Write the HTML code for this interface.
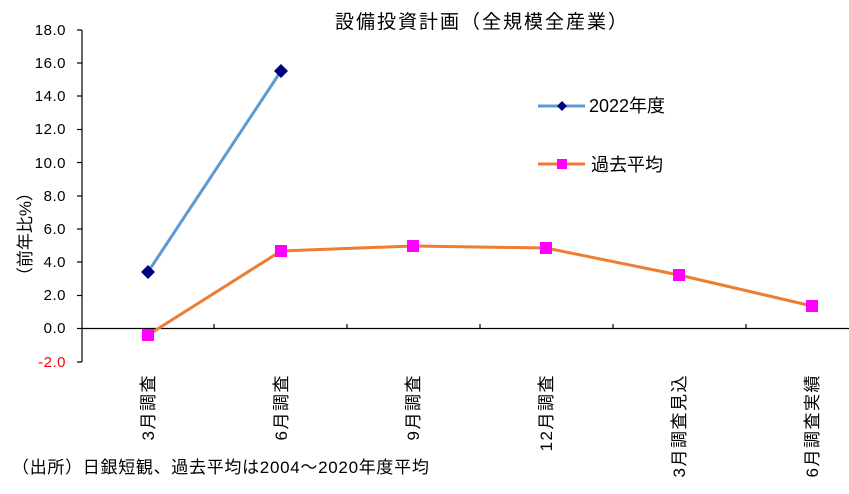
<!DOCTYPE html>
<html><head><meta charset="utf-8"><style>
html,body{margin:0;padding:0;background:#fff;}
svg{display:block;font-family:"Liberation Sans","Noto Sans CJK JP",sans-serif;}
</style></head><body>
<svg width="849" height="494" viewBox="0 0 849 494">
<text x="482" y="28" font-size="19" text-anchor="middle" fill="#000" letter-spacing="2">設備投資計画（全規模全産業）</text>
<g font-size="15" text-anchor="end" fill="#000" letter-spacing="0.5">
<text x="66" y="35">18.0</text>
<text x="66" y="68">16.0</text>
<text x="66" y="101">14.0</text>
<text x="66" y="134">12.0</text>
<text x="66" y="168">10.0</text>
<text x="66" y="201">8.0</text>
<text x="66" y="234">6.0</text>
<text x="66" y="267">4.0</text>
<text x="66" y="300">2.0</text>
<text x="66" y="333">0.0</text>
<text x="66" y="367" fill="#ff0000">-2.0</text>
</g>
<text transform="translate(31,234) rotate(-90)" font-size="17" text-anchor="middle">（前年比%）</text>
<g stroke="#000" stroke-width="1.2">
<line x1="82" y1="30" x2="82" y2="362"/>
<line x1="82" y1="328.5" x2="849" y2="328.5"/>
<line x1="77" y1="30" x2="82" y2="30"/><line x1="77" y1="63" x2="82" y2="63"/><line x1="77" y1="96" x2="82" y2="96"/><line x1="77" y1="129.5" x2="82" y2="129.5"/><line x1="77" y1="162.5" x2="82" y2="162.5"/><line x1="77" y1="196" x2="82" y2="196"/><line x1="77" y1="229" x2="82" y2="229"/><line x1="77" y1="262" x2="82" y2="262"/><line x1="77" y1="295.5" x2="82" y2="295.5"/><line x1="77" y1="328.5" x2="82" y2="328.5"/><line x1="77" y1="362" x2="82" y2="362"/>
<line x1="214" y1="324" x2="214" y2="328.5"/><line x1="347" y1="324" x2="347" y2="328.5"/><line x1="480" y1="324" x2="480" y2="328.5"/><line x1="613" y1="324" x2="613" y2="328.5"/><line x1="746" y1="324" x2="746" y2="328.5"/>
</g>
<polyline points="148,272 281,71" fill="none" stroke="#5b9bd5" stroke-width="3"/>
<polyline points="148,335 281,251 413,246 546,248 679,275 812,306" fill="none" stroke="#ed7d31" stroke-width="3"/>
<g fill="#000080"><polygon points="148,265 155,272 148,279 141,272"/><polygon points="281,64 288,71 281,78 274,71"/></g>
<g fill="#ff00ff"><rect x="142" y="329" width="12" height="12"/><rect x="275" y="245" width="12" height="12"/><rect x="407" y="240" width="12" height="12"/><rect x="540" y="242" width="12" height="12"/><rect x="673" y="269" width="12" height="12"/><rect x="806" y="300" width="12" height="12"/></g>
<line x1="538" y1="106" x2="585" y2="106" stroke="#5b9bd5" stroke-width="3"/>
<polygon points="562,101 567,106 562,111 557,106" fill="#000080"/>
<text x="589" y="112" font-size="18">2022年度</text>
<line x1="538" y1="164" x2="585" y2="164" stroke="#ed7d31" stroke-width="3"/>
<rect x="557" y="159" width="10" height="10" fill="#ff00ff"/>
<text x="591" y="171" font-size="18">過去平均</text>
<g font-size="17" text-anchor="end" letter-spacing="1.5">
<text transform="translate(154,374) rotate(-90)">3月調査</text>
<text transform="translate(287,374) rotate(-90)">6月調査</text>
<text transform="translate(419,374) rotate(-90)">9月調査</text>
<text transform="translate(552,374) rotate(-90)">12月調査</text>
<text transform="translate(685,374) rotate(-90)">3月調査見込</text>
<text transform="translate(818,374) rotate(-90)">6月調査実績</text>
</g>
<text x="12" y="473" font-size="17" letter-spacing="0.7">（出所）日銀短観、過去平均は2004～2020年度平均</text>
</svg>
</body></html>
